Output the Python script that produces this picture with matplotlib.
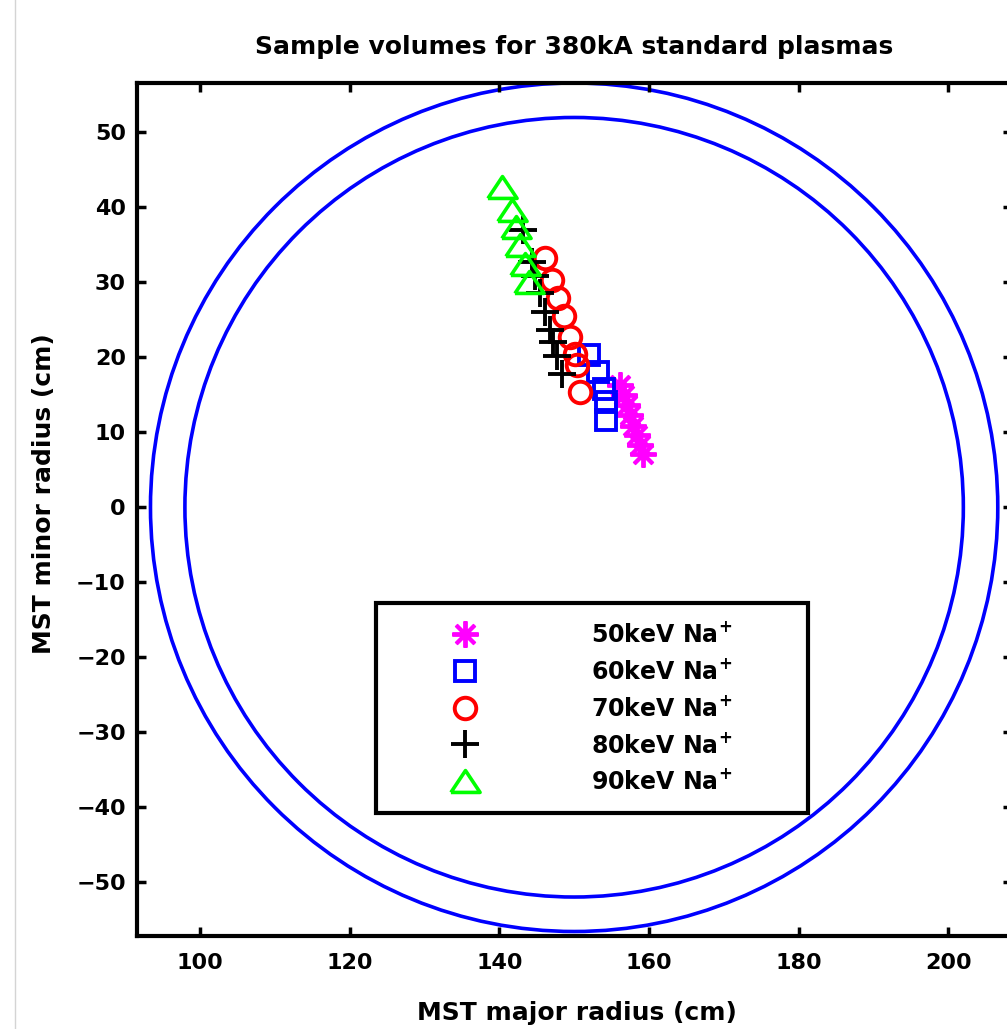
import matplotlib
matplotlib.use("Agg")
import matplotlib.pyplot as plt
from matplotlib.patches import Circle
from matplotlib.lines import Line2D

# sample volume centres (R, Z) in cm for each beam energy
energies = ["50", "60", "70", "80", "90"]
r50 = [156.1, 156.6, 157.1, 157.5, 157.9, 158.4, 158.8, 159.2]
z50 = [16.3, 15.0, 13.6, 12.3, 10.9, 9.6, 8.3, 7.1]
r60 = [152.0, 153.2, 154.0, 154.3, 154.3]
z60 = [20.3, 18.0, 15.8, 14.0, 11.7]
r70 = [146.1, 147.1, 147.9, 148.7, 149.5, 150.1, 150.4, 150.8]
z70 = [33.2, 30.3, 27.9, 25.5, 22.7, 20.4, 19.0, 15.4]
r80 = [143.2, 144.4, 144.8, 145.5, 146.1, 146.8, 147.2, 147.7, 148.4]
z80 = [37.0, 32.7, 30.8, 28.6, 26.1, 23.6, 22.0, 20.2, 17.8]
r90 = [140.4, 141.7, 142.2, 142.8, 143.4, 144.0]
z90 = [42.7, 39.7, 37.4, 35.0, 32.4, 30.0]

# MST vessel: major radius and the two wall circles
R0 = 150.0
wall_radii = [52.0, 56.6]

xticks = [100, 120, 140, 160, 180, 200]
yticks = [-50, -40, -30, -20, -10, 0, 10, 20, 30, 40, 50]

plt.rcParams["font.family"] = "DejaVu Sans"
plt.rcParams["font.weight"] = "bold"
plt.rcParams["axes.titleweight"] = "bold"
plt.rcParams["axes.labelweight"] = "bold"
plt.rcParams["mathtext.default"] = "bf"

fig = plt.figure(figsize=(10.07, 10.29), dpi=100)
# right edge of the frame runs just past the page
ax = fig.add_axes([137 / 1007, 1 - 936 / 1029, 875 / 1007, 853 / 1029])

for rad in wall_radii:
    ax.add_patch(Circle((R0, 0), rad, fill=False, edgecolor="#0000ff", lw=2.6))

tri = [(-1, -0.75), (1, -0.75), (0, 0.75), (-1, -0.75)]
series = [
    (r50, z50, dict(marker=(8, 2, 0), color="#ff00ff", ms=19, mew=2.8)),
    (r60, z60, dict(marker="s", color="#0000ff", ms=15, mew=2.8, mfc="none")),
    (r70, z70, dict(marker="o", color="#ff0000", ms=15.5, mew=2.8, mfc="none")),
    (r80, z80, dict(marker="+", color="black", ms=20, mew=2.8)),
    (r90, z90, dict(marker=tri, color="#00ff00", ms=21, mew=2.6, mfc="none")),
]
for (r, z, style), e in zip(series, energies):
    ax.plot(r, z, ls="none", label=e + r"keV Na$^{+}$", **style)

ax.set_xlim(91.6, 208.5)
ax.set_ylim(-57.2, 56.6)
ax.set_xticks(xticks)
ax.set_yticks(yticks)
ax.set_yticklabels([str(t).replace("-", "\u2212") for t in yticks])
ax.tick_params(direction="in", length=6.5, width=2.5, top=True, right=True,
               labelsize=16)
ax.tick_params(axis="x", pad=12)
ax.tick_params(axis="y", pad=8)
for sp in ax.spines.values():
    sp.set_linewidth(3.0)

ax.set_title("Sample volumes for 380kA standard plasmas", fontsize=18, pad=21)
ax.set_xlabel("MST major radius (cm)", fontsize=18)
ax.set_ylabel("MST minor radius (cm)", fontsize=18)
ax.xaxis.set_label_coords(0.503, -0.076)
ax.yaxis.set_label_coords(-0.093, 0.519)

leg = ax.legend(loc="upper left", bbox_to_anchor=(0.2733, 0.390, 0.494, 0.0),
                mode="expand", borderaxespad=0, fontsize=17, numpoints=1,
                fancybox=False, framealpha=1, edgecolor="black",
                borderpad=0.8, handlelength=5.9, handletextpad=2.4,
                labelspacing=0.5)
leg.get_frame().set_linewidth(3.0)

# thin grey rule along the left edge of the page
fig.add_artist(Line2D([14.5 / 1007, 14.5 / 1007], [0, 1], transform=fig.transFigure,
                      color="#d4d4d4", lw=1))

fig.savefig("out.png", dpi=100)
